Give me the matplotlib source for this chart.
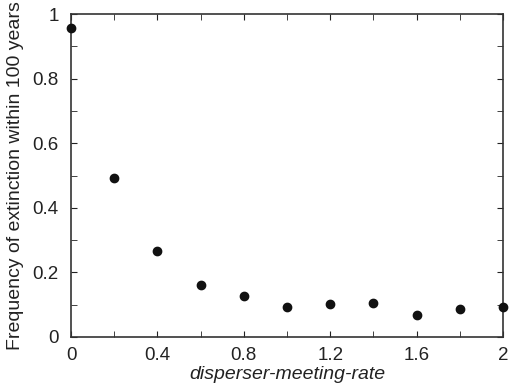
import matplotlib
matplotlib.use("Agg")
import matplotlib.pyplot as plt
from matplotlib.ticker import MultipleLocator, FuncFormatter

plt.rcParams['font.family'] = ['Liberation Sans', 'DejaVu Sans']

rate = [0.0, 0.2, 0.4, 0.6, 0.8, 1.0, 1.2, 1.4, 1.6, 1.8, 2.0]
freq = [0.957, 0.492, 0.266, 0.161, 0.127, 0.092, 0.101, 0.105, 0.069, 0.087, 0.094]

fig = plt.figure(figsize=(5.16, 3.87), dpi=100)
ax = fig.add_axes([0.1376, 0.1292, 0.8372, 0.8346])
ax.plot(rate, freq, 'o', color='#111111', markersize=6, clip_on=False, zorder=5)
ax.set_xlim(0, 2)
ax.set_ylim(0, 1)
ax.xaxis.set_major_locator(MultipleLocator(0.4))
ax.xaxis.set_minor_locator(MultipleLocator(0.2))
ax.yaxis.set_major_locator(MultipleLocator(0.2))
ax.yaxis.set_minor_locator(MultipleLocator(0.1))
fmt = FuncFormatter(lambda v, p: f"{v:g}")
ax.xaxis.set_major_formatter(fmt)
ax.yaxis.set_major_formatter(fmt)
ax.tick_params(which='both', direction='in', top=True, right=True, labelsize=13.5, colors='#222222')
ax.tick_params(which='both', length=4)
ax.tick_params(axis='x', pad=7)
ax.tick_params(axis='y', pad=9)
for s in ax.spines.values():
    s.set_color('#333333')
    s.set_linewidth(1.2)
ax.set_xlabel('disperser-meeting-rate', fontsize=14, style='italic', labelpad=2, color='#222222')
ax.set_ylabel('Frequency of extinction within 100 years', fontsize=14, labelpad=6, color='#222222')
fig.savefig('out.png', dpi=100)
